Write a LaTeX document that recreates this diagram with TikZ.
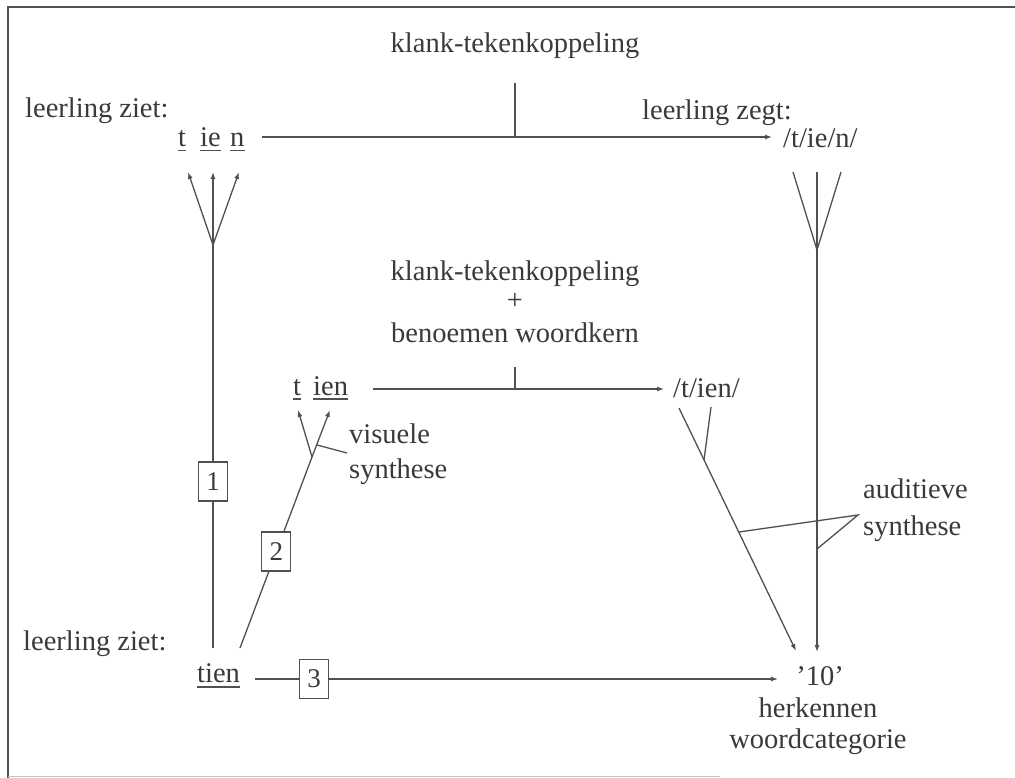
\documentclass[tikz,border=0pt]{standalone}
\usepackage{fontspec}
\setmainfont{Liberation Serif}
\usetikzlibrary{arrows.meta}
\definecolor{ink}{HTML}{3A3A3A}
\definecolor{rulec}{HTML}{505050}

\begin{document}
\begin{tikzpicture}[x=1pt,y=-1pt,
  txt/.style={inner sep=0pt, text=ink, font=\fontsize{28.5}{32}\selectfont},
  numbox/.style={draw=rulec, fill=white, line width=1.2pt, minimum width=29pt,
    minimum height=39pt, inner sep=0pt, text=ink, font=\fontsize{27}{30}\selectfont},
  conn/.style={draw=rulec, line width=1.3pt},
  arr/.style={conn, -{Latex[length=7pt,width=5pt]}},
  uline/.style={draw=rulec, line width=1.2pt},
]
\useasboundingbox (0,0) rectangle (1015,778);

% frame
\draw[rulec, line width=1.6pt] (8,778) -- (8,7) -- (1015,7);
\draw[rulec!35, line width=1pt] (8,776) -- (720,776);

% ---------- top row: t ie n -> /t/ie/n/
\node[txt, anchor=base] (kt1) at (515,53) {klank-tekenkoppeling};
\node[txt, anchor=base west] (ziet1) at (25,118) {leerling ziet:};
\node[txt, anchor=base west] (zegt) at (642,120) {leerling zegt:};
\node[txt, anchor=base west] (t1) at (178,147) {t};
\node[txt, anchor=base west] (ie1) at (200,147) {ie};
\node[txt, anchor=base west] (n1) at (230,147) {n};
\node[txt, anchor=base west] (tien1) at (783,148) {/t/ie/n/};
\foreach \n in {t1,ie1,n1}
  \draw[uline] ([yshift=-3.5pt]\n.base west) -- ([yshift=-3.5pt]\n.base east);

\coordinate (tk1) at (515,83);
\coordinate (h1m) at (515,137);
\coordinate (h1s) at (262,137);
\coordinate (h1e) at (772,137);
\draw[conn] (tk1) -- (h1m);
\draw[arr] (h1s) -- (h1e);

% left fork (visual analysis)
\coordinate (jL) at (213,245);
\coordinate (aT) at (188,172);
\coordinate (aI) at (213,172);
\coordinate (aN) at (239,172);
\draw[arr] (jL) -- (aT);
\draw[arr] (jL) -- (aI);
\draw[arr] (jL) -- (aN);

% right fork (auditory)
\coordinate (jR) at (817,250);
\coordinate (rT) at (793,172);
\coordinate (rI) at (817,172);
\coordinate (rN) at (841,172);
\draw[conn] (rT) -- (jR);
\draw[conn] (rI) -- (jR);
\draw[conn] (rN) -- (jR);

% ---------- middle row: t ien -> /t/ien/
\node[txt, anchor=base] (kt2) at (515,280) {klank-tekenkoppeling};
\node[txt, anchor=base] (plus) at (515,309) {+};
\node[txt, anchor=base] (woordkern) at (515,342) {benoemen woordkern};
\node[txt, anchor=base west] (t2) at (293,395) {t};
\node[txt, anchor=base west] (ien2) at (313,395) {ien};
\node[txt, anchor=base west] (tien2) at (673,397) {/t/ien/};
\foreach \n in {t2,ien2}
  \draw[uline] ([yshift=-4pt]\n.base west) -- ([yshift=-4pt]\n.base east);

\coordinate (tk2) at (515,367);
\coordinate (h2m) at (515,389);
\coordinate (h2s) at (373,389);
\coordinate (h2e) at (664,389);
\draw[conn] (tk2) -- (h2m);
\draw[arr] (h2s) -- (h2e);

% visual synthesis
\coordinate (jM) at (312,457);
\coordinate (mT) at (298,410);
\coordinate (mI) at (330,410);
\draw[arr] (jM) -- (mT);
\draw[arr] (jM) -- (mI);
\coordinate (vs1) at (317,445);
\coordinate (vs2) at (347,453);
\draw[conn] (vs1) -- (vs2);
\node[txt, anchor=base west] (vis) at (349,443) {visuele};
\node[txt, anchor=base west] (vsyn) at (349,478) {synthese};

% ---------- bottom row: tien -> '10'
\node[txt, anchor=base west] (ziet2) at (23,650) {leerling ziet:};
\node[txt, anchor=base west] (tien) at (197,682) {tien};
\draw[uline] ([yshift=-5pt]tien.base west) -- ([yshift=-5pt]tien.base east);
\node[txt, anchor=base] (ten) at (820,685) {'10'};
\node[txt, anchor=base] (herk) at (818,717) {herkennen};
\node[txt, anchor=base] (cat) at (818,748) {woordcategorie};

% route 1: straight up from tien
\coordinate (lb) at (213,648);
\draw[conn] (lb) -- node[numbox, pos=0.413] (b1) {1} (jL);

% route 2: via visual synthesis
\coordinate (lb2) at (240,648);
\draw[conn] (lb2) -- node[numbox, pos=0.505] (b2) {2} (jM);

% route 3: direct recognition
\coordinate (bs) at (255,679);
\coordinate (be) at (778,679);
\draw[arr] (bs) -- node[numbox, pos=0.113] (b3) {3} (be);

% auditory synthesis into '10'
\coordinate (d1) at (679,408);
\coordinate (d2) at (796,651);
\draw[arr] (d1) -- (d2);
\coordinate (db1) at (711,407);
\coordinate (db2) at (704,460);
\draw[conn] (db1) -- (db2);
\coordinate (vb) at (817,652);
\draw[arr] (jR) -- (vb);

\coordinate (as1) at (739,532);
\coordinate (as2) at (858,515);
\coordinate (as3) at (817,549);
\draw[conn] (as1) -- (as2) -- (as3);
\node[txt, anchor=base west] (aud) at (863,498) {auditieve};
\node[txt, anchor=base west] (asyn) at (863,535) {synthese};
\end{tikzpicture}
\end{document}
